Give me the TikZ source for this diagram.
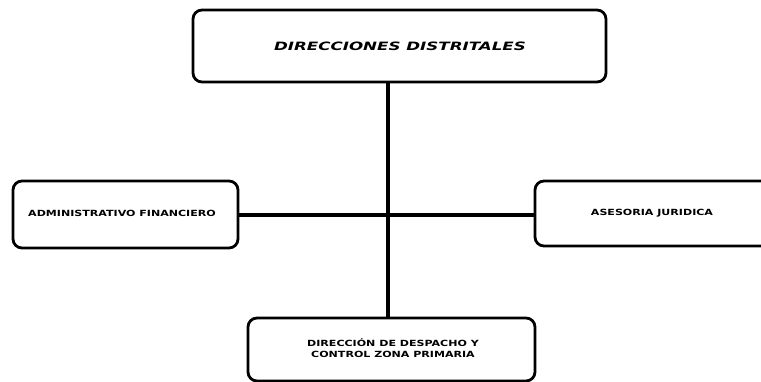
\documentclass[tikz,border=0pt]{standalone}
\usepackage{fontspec}
\usepackage{graphicx}
\setmainfont{DejaVu Sans}
\newcommand{\wx}[1]{\scalebox{1.3}[1]{#1}}
\newcommand{\wtop}[1]{\scalebox{1.45}[1]{#1}}
\begin{document}
\begin{tikzpicture}[x=1pt,y=-1pt]
\useasboundingbox (0,0) rectangle (761,382);
\tikzset{
  boxshape/.style={draw=black,line width=2.8pt,rounded corners=9pt},
  conn/.style={draw=black,line width=3.4pt},
  lbl/.style={font=\bfseries\fontsize{8.5}{10.5}\selectfont,align=center,inner sep=0pt},
  toplbl/.style={font=\bfseries\itshape\fontsize{11.5}{13}\selectfont,inner sep=0pt}
}
% boxes
\draw[boxshape] (193,10) rectangle (606,82);
\draw[boxshape] (13,181) rectangle (238,248);
\draw[boxshape] (535,181) rectangle (778,246);
\draw[boxshape] (248,318) rectangle (535,381);
% anchors
\coordinate (topb) at (388,82);
\coordinate (botb) at (388,318);
\coordinate (leftb) at (238,215);
\coordinate (rightb) at (535,215);
\node[toplbl] (dd) at (400,46) {\wtop{DIRECCIONES DISTRITALES}};
\node[lbl] (af) at (122,213) {\wx{ADMINISTRATIVO FINANCIERO}};
\node[lbl] (aj) at (652,213) {\wx{ASESORIA JURIDICA}};
\node[lbl] (dc) at (393,348) {\wx{DIRECCIÓN DE DESPACHO Y}\\\wx{CONTROL ZONA PRIMARIA}};
% connectors
\draw[conn] (topb) -- (botb);
\draw[conn] (leftb) -- (rightb);
\end{tikzpicture}
\end{document}
